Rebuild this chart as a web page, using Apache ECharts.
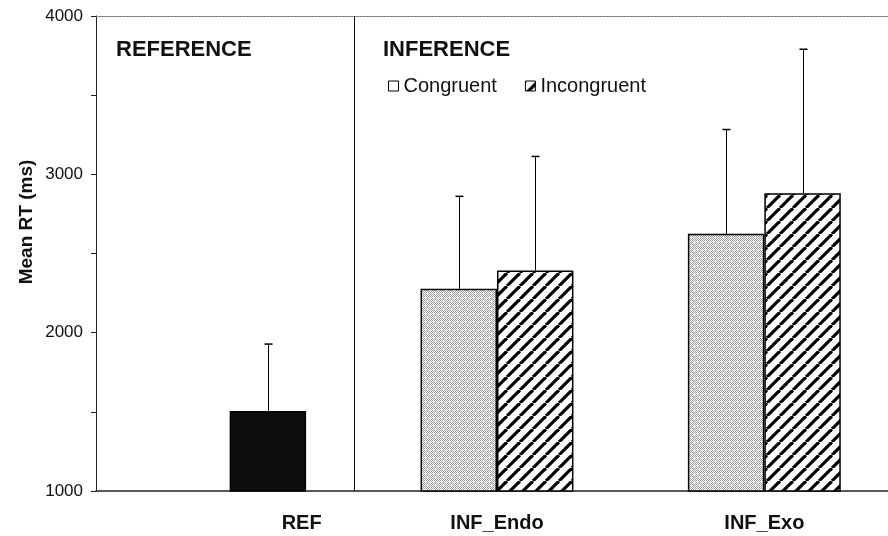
<!DOCTYPE html>
<html>
<head>
<meta charset="utf-8">
<script src="https://cdn.jsdelivr.net/npm/echarts@6/dist/echarts.min.js"></script>
<style>
html,body{margin:0;padding:0;background:#fff;}
#chart{width:888px;height:536px;}
</style>
</head>
<body>
<div id="chart"></div>
<script>
// ---- data ----
const categories = ['REF', 'INF_Endo', 'INF_Exo'];
const refMean = 1506;
const refUpper = 1928;
const congruentMean = [null, 2277, 2624];
const congruentUpper = [null, 2861, 3283];
const incongruentMean = [null, 2393, 2880];
const incongruentUpper = [null, 3113, 3790];
const yTicks = [1000, 2000, 3000, 4000];

// ---- patterns ----
function hatchPattern() {
  const s = 13;
  const c = document.createElement('canvas');
  c.width = s; c.height = s;
  const g = c.getContext('2d');
  g.fillStyle = '#fff'; g.fillRect(0, 0, s, s);
  g.strokeStyle = '#000'; g.lineWidth = 3.2;
  for (const o of [-s, 0, s]) {
    g.beginPath(); g.moveTo(o, s); g.lineTo(o + s, 0); g.stroke();
  }
  return c;
}
function stipplePattern() {
  const s = 8;
  const c = document.createElement('canvas');
  c.width = s; c.height = s;
  const g = c.getContext('2d');
  g.fillStyle = '#fff'; g.fillRect(0, 0, s, s);
  g.fillStyle = '#9a9a9a';
  for (let y = 0; y < s; y++) for (let x = 0; x < s; x++) {
    if ((x + y) % 2 === 0 && !(x === 3 && y === 5) && !(x === 6 && y === 2) && !(x === 1 && y === 1)) g.fillRect(x, y, 1, 1);
  }
  return c;
}
const hatch = { image: hatchPattern(), repeat: 'repeat' };
const stipple = { image: stipplePattern(), repeat: 'repeat' };

const chart = echarts.init(document.getElementById('chart'), null, { renderer: 'canvas' });

const incData = incongruentMean.map(v => v == null ? '-' : v);
incData[0] = { value: refMean, itemStyle: { color: '#0d0d0d', borderColor: '#000' } };
const conData = congruentMean.map(v => v == null ? '-' : v);

function errData(means, uppers) {
  const out = [];
  means.forEach((m, i) => { if (m != null) out.push([i, m, uppers[i]]); });
  return out;
}
const incErr = errData([refMean, incongruentMean[1], incongruentMean[2]], [refUpper, incongruentUpper[1], incongruentUpper[2]]);
const conErr = errData(congruentMean, congruentUpper);

const BAR_FRAC = 0.286;
function errRender(offsetSign) {
  return function (params, api) {
    const b = api.coord([api.value(0), api.value(1)]);
    const t = api.coord([api.value(0), api.value(2)]);
    const bw = api.size([1, 0])[0];
    const x = Math.round(b[0] + offsetSign * bw * BAR_FRAC / 2) + 0.5;
    return {
      type: 'group',
      children: [
        { type: 'line', shape: { x1: x, y1: b[1], x2: x, y2: t[1] }, style: { stroke: '#000', lineWidth: 1 } },
        { type: 'line', shape: { x1: x - 4, y1: t[1], x2: x + 4, y2: t[1] }, style: { stroke: '#000', lineWidth: 1.5 } }
      ]
    };
  };
}
// panel separator between REFERENCE and INFERENCE panels (fraction of band past the REF category centre)
const SEP_FRAC = 0.4665;
function sepRender(params, api) {
  const b = api.coord([api.value(0), api.value(1)]);
  const t = api.coord([api.value(0), api.value(2)]);
  const bw = api.size([1, 0])[0];
  const x = Math.round(b[0] + SEP_FRAC * bw) + 0.5;
  return { type: 'line', shape: { x1: x, y1: b[1], x2: x, y2: t[1] }, style: { stroke: '#111', lineWidth: 1 } };
}

const FONT = 'Liberation Sans, Arial, sans-serif';
const option = {
  animation: false,
  backgroundColor: '#fff',
  textStyle: { fontFamily: FONT },
  grid: { left: 96, right: -10, top: 16, bottom: 45, containLabel: false, outerBoundsMode: 'none' },
  legend: {
    left: 383, top: 71,
    itemWidth: 10, itemHeight: 10, itemGap: 28,
    textStyle: { fontSize: 20, color: '#111', fontFamily: FONT },
    data: [
      { name: 'Congruent', icon: 'rect', itemStyle: { color: '#fff', borderColor: '#000', borderWidth: 1 } },
      { name: 'Incongruent', icon: 'rect', itemStyle: { color: hatch, borderColor: '#000', borderWidth: 1 } }
    ]
  },
  xAxis: [{
    type: 'category',
    data: categories,
    axisLine: { lineStyle: { color: '#222', width: 1.5 } },
    axisTick: { show: false },
    axisLabel: {
      margin: 22,
      fontSize: 20, fontWeight: 'bold', color: '#111',
      formatter: v => v === 'REF' ? '{r|' + v + '}' : v,
      rich: { r: { fontSize: 20, fontWeight: 'bold', color: '#111', padding: [0, 0, 0, 144] } }
    }
  }, {
    type: 'category',
    data: categories,
    position: 'top',
    axisLine: { lineStyle: { color: '#777', width: 1, type: [2, 1] } },
    axisTick: { show: false },
    axisLabel: { show: false }
  }],
  yAxis: {
    type: 'value',
    min: 1000, max: 4000, interval: 500,
    axisLine: { show: true, lineStyle: { color: '#222', width: 1 } },
    axisTick: { show: true, length: 5, lineStyle: { color: '#222' } },
    splitLine: { show: false },
    axisLabel: {
      margin: 13, fontSize: 17, color: '#111',
      formatter: v => yTicks.indexOf(v) >= 0 ? String(v) : ''
    }
  },
  series: [{
    name: 'Congruent', type: 'bar', data: conData,
    barWidth: (BAR_FRAC * 100) + '%', barGap: '0%',
    itemStyle: { color: stipple, borderColor: '#000', borderWidth: 1.5 }
  }, {
    name: 'Incongruent', type: 'bar', data: incData,
    barWidth: (BAR_FRAC * 100) + '%', barGap: '0%',
    itemStyle: { color: hatch, borderColor: '#000', borderWidth: 1.5 }
  }, {
    type: 'custom', name: 'errC', data: conErr, renderItem: errRender(-1), z: 1,
    encode: { x: 0, y: [1, 2] }
  }, {
    type: 'custom', name: 'errI', data: incErr, renderItem: errRender(1), z: 1,
    encode: { x: 0, y: [1, 2] }
  }, {
    type: 'custom', name: 'sep', data: [[0, 1000, 4000]], renderItem: sepRender, z: 1,
    encode: { x: 0, y: [1, 2] }, silent: true
  }],
  graphic: [
    { type: 'text', left: 116, top: 39, style: { text: 'REFERENCE', fontSize: 22, fontWeight: 'bold', fill: '#111', fontFamily: FONT } },
    { type: 'text', left: 383, top: 39, style: { text: 'INFERENCE', fontSize: 22, fontWeight: 'bold', fill: '#111', fontFamily: FONT } },
    { type: 'text', x: 27, y: 222, rotation: Math.PI / 2, style: { text: 'Mean RT (ms)', fontSize: 19, fontWeight: 'bold', fill: '#111', align: 'center', verticalAlign: 'middle', fontFamily: FONT } }
  ]
};
chart.setOption(option);
</script>
</body>
</html>
